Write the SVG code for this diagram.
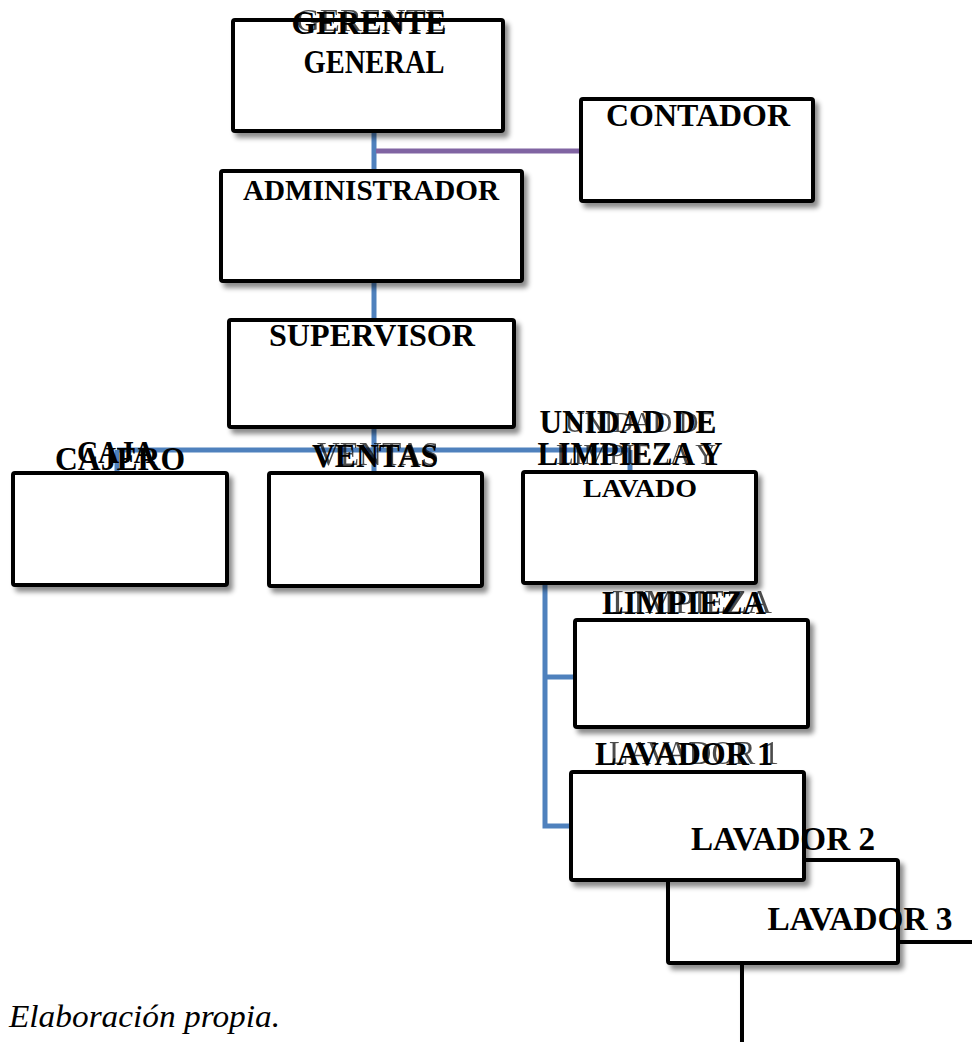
<svg xmlns="http://www.w3.org/2000/svg" width="972" height="1042" viewBox="0 0 972 1042">
<defs>
<filter id="sh" x="-10%" y="-10%" width="130%" height="140%">
<feDropShadow dx="4" dy="5" stdDeviation="2.5" flood-color="#000" flood-opacity="0.45"/>
</filter>
<style>
.box{fill:#fff;stroke:#000;stroke-width:4;filter:url(#sh)}
.t{font-family:"Liberation Serif","Times New Roman",serif;font-weight:bold;text-anchor:middle;fill:#000}
.g{font-family:"Liberation Serif","Times New Roman",serif;font-weight:normal;text-anchor:middle;fill:#000;opacity:0.7}
.blue{fill:none;stroke:#4F81BD;stroke-width:5}
.purple{fill:none;stroke:#8064A2;stroke-width:5}
</style>
</defs>
<rect width="972" height="1042" fill="#fff"/>
<g id="connectors">
<path class="blue" d="M374,131 V170 M374,281 V319 M374,427 V472 M117,450 H630 M117,450 V472 M630,450 V471 M545,583 V826 H571 M545,677 H575"/>
<path class="purple" d="M376,151 H581"/>
</g>
<g id="n-gerente">
<rect class="box" x="233" y="20" width="270" height="111" rx="2"/>
<text class="g" x="371" y="31" font-size="32" textLength="150" lengthAdjust="spacingAndGlyphs">GERENTE</text>
<text class="t" x="369" y="34" font-size="33" textLength="155" lengthAdjust="spacingAndGlyphs">GERENTE</text>
<text class="t" x="374" y="73" font-size="33" textLength="141" lengthAdjust="spacingAndGlyphs">GENERAL</text>
</g>
<g id="n-contador">
<rect class="box" x="581" y="99" width="232" height="102" rx="2"/>
<text class="t" x="698" y="126" font-size="31" textLength="184" lengthAdjust="spacingAndGlyphs">CONTADOR</text>
</g>
<g id="n-administrador">
<rect class="box" x="221" y="171" width="301" height="110" rx="2"/>
<text class="t" x="371" y="200" font-size="29" textLength="256" lengthAdjust="spacingAndGlyphs">ADMINISTRADOR</text>
</g>
<g id="n-supervisor">
<rect class="box" x="229" y="320" width="285" height="107" rx="2"/>
<text class="t" x="372" y="346" font-size="32" textLength="206" lengthAdjust="spacingAndGlyphs">SUPERVISOR</text>
</g>
<g id="n-cajero">
<rect class="box" x="13" y="473" width="214" height="112" rx="2"/>
<text class="t" x="116" y="463" font-size="31" textLength="78" lengthAdjust="spacingAndGlyphs">CAJA</text>
<text class="t" x="120" y="470" font-size="33" textLength="130" lengthAdjust="spacingAndGlyphs">CAJERO</text>
</g>
<g id="n-ventas">
<rect class="box" x="269" y="473" width="213" height="113" rx="2"/>
<text class="g" x="378" y="465" font-size="33" textLength="122" lengthAdjust="spacingAndGlyphs">VENTAS</text>
<text class="t" x="375" y="467" font-size="33" textLength="126" lengthAdjust="spacingAndGlyphs">VENTAS</text>
</g>
<g id="n-unidad">
<rect class="box" x="523" y="472" width="233" height="111" rx="2"/>
<text class="g" x="640" y="432" font-size="30" textLength="150" lengthAdjust="spacingAndGlyphs">UNIDAD DE</text>
<text class="g" x="636" y="464" font-size="30" textLength="160" lengthAdjust="spacingAndGlyphs">LIMPIEZA Y</text>
<text class="t" x="628" y="433" font-size="33" textLength="177" lengthAdjust="spacingAndGlyphs">UNIDAD DE</text>
<text class="t" x="630" y="465" font-size="33" textLength="185" lengthAdjust="spacingAndGlyphs">LIMPIEZA Y</text>
<text class="t" x="640" y="497" font-size="26" textLength="114" lengthAdjust="spacingAndGlyphs">LAVADO</text>
</g>
<g id="n-limpieza">
<rect class="box" x="575" y="620" width="233" height="107" rx="2"/>
<text class="g" x="692" y="613" font-size="33" textLength="160" lengthAdjust="spacingAndGlyphs">LIMPIEZA</text>
<text class="t" x="684" y="614" font-size="33" textLength="164" lengthAdjust="spacingAndGlyphs">LIMPIEZA</text>
</g>
<g id="n-lavador3">
<rect class="box" x="742" y="942" width="300" height="200"/>
</g>
<g id="n-lavador2">
<rect class="box" x="668" y="860" width="230" height="103" rx="2"/>
</g>
<g id="n-lavador1">
<rect class="box" x="571" y="772" width="233" height="108" rx="2"/>
<text class="g" x="694" y="764" font-size="33" textLength="170" lengthAdjust="spacingAndGlyphs">LAVADOR 1</text>
<text class="t" x="684" y="765" font-size="33" textLength="178" lengthAdjust="spacingAndGlyphs">LAVADOR 1</text>
</g>
<g id="n-lavador2-label">
<text class="t" x="783" y="850" font-size="33" textLength="184" lengthAdjust="spacingAndGlyphs">LAVADOR 2</text>
</g>
<g id="n-lavador3-label">
<text class="t" x="860" y="930" font-size="33" textLength="185" lengthAdjust="spacingAndGlyphs">LAVADOR 3</text>
</g>
<text x="9" y="1027" font-family="'Liberation Serif','Times New Roman',serif" font-style="italic" font-size="31" textLength="271" lengthAdjust="spacingAndGlyphs">Elaboración propia.</text>
</svg>
